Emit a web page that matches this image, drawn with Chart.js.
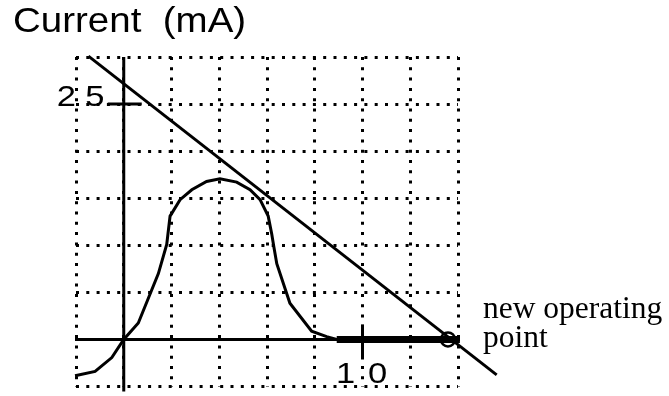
<!DOCTYPE html>
<html>
<head>
<meta charset="utf-8">
<script src="https://cdn.jsdelivr.net/npm/chart.js@4"></script>
<style>
html,body{margin:0;padding:0;background:#fff;}
#wrap{width:669px;height:396px;}
</style>
</head>
<body>
<div id="wrap"><canvas id="c" width="669" height="396"></canvas></div>
<script>
// Diode-like I-V curve (x = voltage units, y = current mA)
const curveX = [-2.04, -1.2, -0.5, 0, 0.61, 1.45, 1.8, 1.94, 2.36, 2.85, 3.47, 4.03, 4.73, 5.29, 5.71, 6.05, 6.2, 6.29, 6.41, 6.96, 7.87, 8.5, 8.92, 14.08];
const curveY = [-3.85, -3.4, -1.93, 0, 1.74, 6.99, 10.1, 13.1, 14.85, 15.9, 16.78, 17.06, 16.71, 15.9, 14.85, 13.1, 11.18, 9.79, 8.04, 3.84, 0.87, 0.3, 0, 0];
// Load line endpoints
const loadX = [-1.48, 15.62];
const loadY = [30.1, -3.77];
// New operating point
const opX = [13.58];
const opY = [0];
// Axis ranges and tick labels
const xTicks = [-2, 14, 2];
const yTicks = [-5, 30, 5];
const xTickLabel = {value: 10, text: "10"};
const yTickLabel = {value: 25, text: "25"};
const titleText = "Current  (mA)";
const noteLines = ["new operating", "point"];

const toPts = (xs, ys) => xs.map((x, i) => ({x: x, y: ys[i]}));

function stretchedText(ctx, txt, cx, by, sx) {
  ctx.save();
  ctx.translate(cx, by);
  ctx.scale(sx, 1);
  ctx.fillText(txt, 0, 0);
  ctx.restore();
}

const decor = {
  id: 'decor',
  afterDatasetsDraw(chart) {
    const ctx = chart.ctx, xs = chart.scales.x, ys = chart.scales.y, a = chart.chartArea;
    const x0 = xs.getPixelForValue(0), y0 = ys.getPixelForValue(0);
    ctx.save();
    ctx.strokeStyle = '#000';
    ctx.lineWidth = 3;
    ctx.beginPath();
    ctx.moveTo(x0, a.top); ctx.lineTo(x0, a.bottom + 5);
    ctx.moveTo(a.left - 1, y0); ctx.lineTo(a.right + 2, y0);
    // tick marks
    const ty = ys.getPixelForValue(yTickLabel.value);
    ctx.moveTo(x0 - 16, ty); ctx.lineTo(x0 + 18, ty);
    const tx = xs.getPixelForValue(xTickLabel.value);
    ctx.moveTo(tx, y0 - 15); ctx.lineTo(tx, y0 + 20);
    ctx.stroke();
    ctx.fillStyle = '#000';
    ctx.textBaseline = 'alphabetic';
    ctx.textAlign = 'center';
    ctx.font = '30px "Liberation Sans", Arial, sans-serif';
    stretchedText(ctx, yTickLabel.text[0], x0 - 57.5, ty + 2, 1.15);
    stretchedText(ctx, yTickLabel.text[1], x0 - 29, ty + 2, 1.15);
    stretchedText(ctx, xTickLabel.text[0], tx - 17, y0 + 44, 1.15);
    stretchedText(ctx, xTickLabel.text[1], tx + 15, y0 + 44, 1.15);
    ctx.textAlign = 'left';
    ctx.font = '35px "Liberation Sans", Arial, sans-serif';
    stretchedText(ctx, titleText, 13, 32, 1.1);
    ctx.font = '31.5px "Liberation Serif", "Times New Roman", serif';
    ctx.fillText(noteLines[0], a.right + 25, y0 - 21);
    ctx.fillText(noteLines[1], a.right + 25, y0 + 8);
    ctx.restore();
  }
};

const gridOpts = {
  display: true,
  drawTicks: false,
  color: '#000',
  lineWidth: 3
};

new Chart(document.getElementById('c'), {
  type: 'scatter',
  data: {
    datasets: [
      {
        data: toPts(curveX, curveY),
        showLine: true,
        borderColor: '#000',
        borderWidth: 3,
        pointRadius: 0,
        tension: 0,
        clip: false,
        segment: {
          borderWidth: c => (c.p0.parsed.y === 0 && c.p1.parsed.y === 0) ? 7 : 3
        }
      },
      {
        data: toPts(loadX, loadY),
        showLine: true,
        borderColor: '#000',
        borderWidth: 3,
        pointRadius: 0,
        clip: false
      },
      {
        data: toPts(opX, opY),
        showLine: false,
        pointStyle: 'circle',
        pointRadius: 7,
        pointBorderWidth: 2.5,
        pointBorderColor: '#000',
        pointBackgroundColor: 'rgba(0,0,0,0)',
        clip: false
      }
    ]
  },
  options: {
    responsive: false,
    animation: false,
    devicePixelRatio: 1,
    layout: {padding: {left: 76, top: 57, right: 211, bottom: 5}},
    plugins: {legend: {display: false}, tooltip: {enabled: false}},
    scales: {
      x: {
        type: 'linear', min: xTicks[0], max: xTicks[1],
        ticks: {display: false, stepSize: xTicks[2]},
        grid: gridOpts,
        border: {display: false, dash: [3, 7.3]}
      },
      y: {
        type: 'linear', min: yTicks[0], max: yTicks[1],
        ticks: {display: false, stepSize: yTicks[2]},
        grid: gridOpts,
        border: {display: false, dash: [3, 7.3]}
      }
    }
  },
  plugins: [decor]
});
</script>
</body>
</html>
